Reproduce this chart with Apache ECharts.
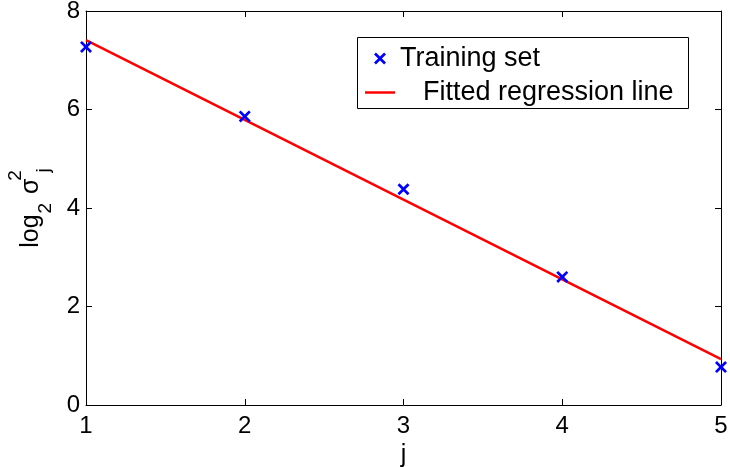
<!DOCTYPE html>
<html>
<head>
<meta charset="utf-8">
<style>
  html, body { margin: 0; padding: 0; background: #fff; }
  #chart { width: 730px; height: 467px; }
</style>
<script src="https://cdn.jsdelivr.net/npm/echarts@6/dist/echarts.min.js"></script>
</head>
<body>
<div id="chart"></div>
<script>
// Log-variance of each component j and its least-squares fit
const jValues = [1, 2, 3, 4, 5];
const logVariance = [7.27, 5.86, 4.38, 2.60, 0.77];
const fitX = [1, 5];
const fitY = [7.41, 0.93];
const yTicks = { min: 0, max: 8, step: 2 };
const xTicks = { min: 1, max: 5, step: 1 };

const FONT = 'Liberation Sans, Arial, Helvetica, sans-serif';
// thick "x" marker
const CROSS = 'path://M0,1.6L1.6,0L5,3.4L8.4,0L10,1.6L6.6,5L10,8.4L8.4,10L5,6.6L1.6,10L0,8.4L3.4,5Z';

const chart = echarts.init(document.getElementById('chart'), null, { renderer: 'canvas' });

const boxAxis = {
  axisLine: { show: true, onZero: false, lineStyle: { color: '#000', width: 1 } },
  axisTick: { show: true, inside: true, length: 6, lineStyle: { color: '#000', width: 1 } },
  splitLine: { show: false }
};

chart.setOption({
  animation: false,
  backgroundColor: '#fff',
  textStyle: { fontFamily: FONT },
  grid: { left: 86, right: 9, top: 11, bottom: 62, containLabel: false, outerBoundsMode: 'none' },
  graphic: [{
    type: 'rect',
    z: 3,
    shape: { x: 357.5, y: 37.5, width: 331, height: 71 },
    style: { fill: '#fff', stroke: '#000', lineWidth: 1 }
  }],
  legend: [{
    data: [{ name: 'Training set', icon: CROSS }],
    left: 374, top: 45, padding: 0, z: 5,
    itemWidth: 12, itemHeight: 12,
    selectedMode: false,
    textStyle: { fontSize: 27, color: '#000', fontFamily: FONT, padding: [0, 0, 0, 9] }
  }, {
    data: [{ name: 'Fitted regression line', icon: 'rect' }],
    left: 365, top: 79, padding: 0, z: 5,
    itemWidth: 30, itemHeight: 2.5,
    selectedMode: false,
    textStyle: { fontSize: 27, color: '#000', fontFamily: FONT, padding: [0, 0, 0, 23] }
  }],
  xAxis: [Object.assign({}, boxAxis, {
    type: 'value', position: 'bottom',
    min: xTicks.min, max: xTicks.max, interval: xTicks.step,
    name: 'j', nameLocation: 'middle', nameGap: 33,
    nameTextStyle: { fontSize: 25, color: '#000', fontFamily: FONT },
    axisLabel: { show: true, margin: 9, fontSize: 24, color: '#000', fontFamily: FONT }
  }), Object.assign({}, boxAxis, {
    type: 'value', position: 'top',
    min: xTicks.min, max: xTicks.max, interval: xTicks.step,
    axisLabel: { show: false }
  })],
  yAxis: [Object.assign({}, boxAxis, {
    type: 'value', position: 'left',
    min: yTicks.min, max: yTicks.max, interval: yTicks.step,
    name: '{b|log}{s|2}{b| σ}{p|2}{j|j}',
    nameLocation: 'middle', nameRotate: 90, nameGap: 27,
    nameTextStyle: {
      color: '#000', fontFamily: FONT,
      rich: {
        b: { fontSize: 25, color: '#000', fontFamily: FONT },
        s: { fontSize: 19, color: '#000', fontFamily: FONT, padding: [30, 2, 0, 1] },
        p: { fontSize: 19, color: '#000', fontFamily: FONT, width: 0, padding: [0, 0, 31, 3] },
        j: { fontSize: 19, color: '#000', fontFamily: FONT, padding: [26, 0, 0, 3] }
      }
    },
    axisLabel: { show: true, margin: 6, fontSize: 24, color: '#000', fontFamily: FONT }
  }), Object.assign({}, boxAxis, {
    type: 'value', position: 'right',
    min: yTicks.min, max: yTicks.max, interval: yTicks.step,
    axisLabel: { show: false }
  })],
  series: [{
    name: 'Fitted regression line',
    type: 'line',
    data: fitX.map((x, i) => [x, fitY[i]]),
    symbol: 'none',
    lineStyle: { color: '#ff0000', width: 2.5 },
    itemStyle: { color: '#ff0000' },
    z: 2
  }, {
    name: 'Training set',
    type: 'scatter',
    data: jValues.map((x, i) => [x, logVariance[i]]),
    symbol: CROSS,
    symbolSize: 12,
    itemStyle: { color: '#0000ff', opacity: 1 },
    z: 3
  }]
});
</script>
</body>
</html>
